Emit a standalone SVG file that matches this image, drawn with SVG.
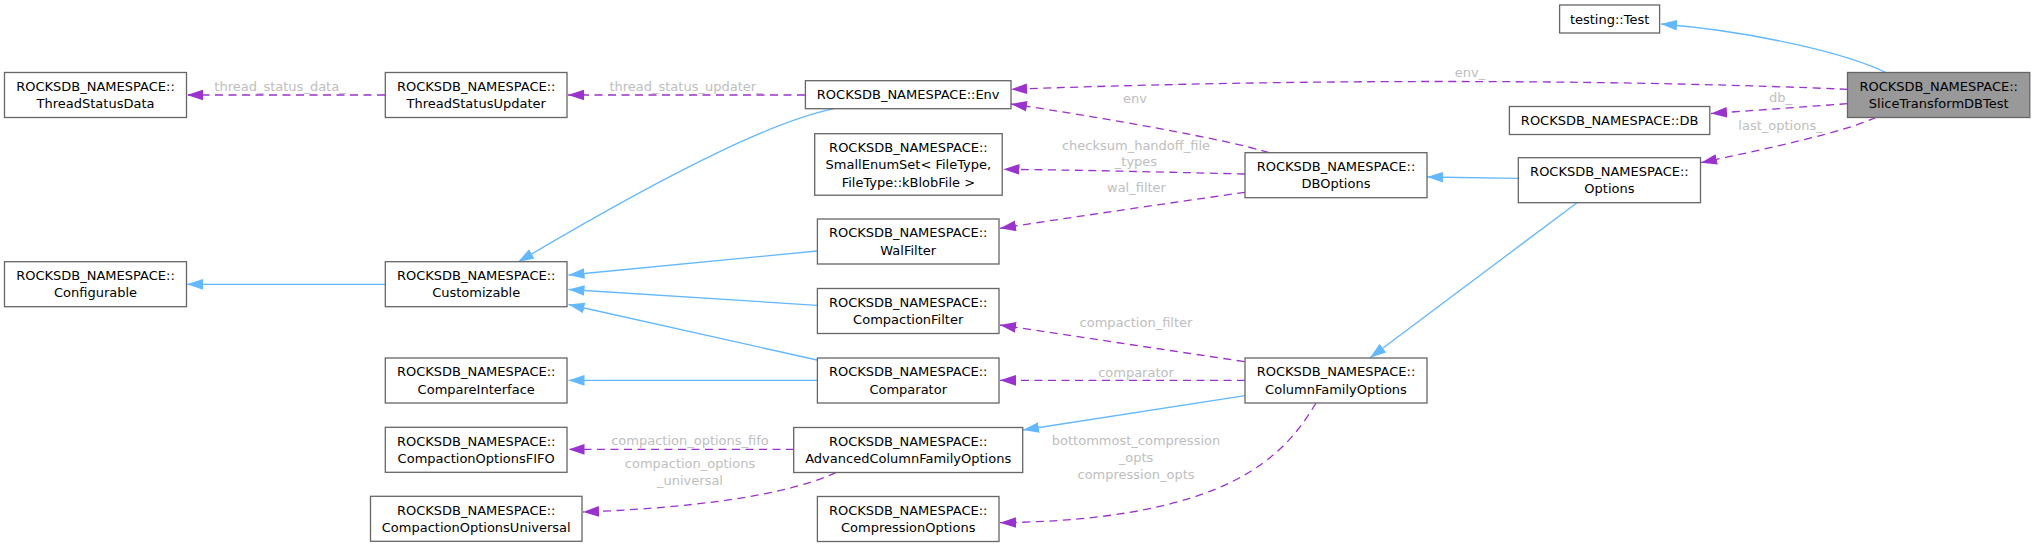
<svg xmlns="http://www.w3.org/2000/svg" width="2035" height="547" viewBox="0 0 2035 547">
<style>
.node rect{fill:#ffffff;stroke:#666666;stroke-width:1.3}
.node.hl rect{fill:#999999}
.node text{font-family:"DejaVu Sans",sans-serif;font-size:13px;fill:#000000;text-anchor:middle}
.e{fill:none;stroke-width:1.3}
.inh{stroke:#63b8ff;marker-end:url(#ab)}
.use{stroke:#9a32cd;stroke-dasharray:8,5.5;marker-end:url(#ap)}
.lbl{font-family:"DejaVu Sans",sans-serif;font-size:13px;fill:#bebebe;text-anchor:middle}
</style>
<defs>
<marker id="ab" markerUnits="userSpaceOnUse" markerWidth="16" markerHeight="11" viewBox="0 0 15 10" refX="15" refY="5" orient="auto"><polygon points="0,0 15,5 0,10" fill="#63b8ff"/></marker>
<marker id="ap" markerUnits="userSpaceOnUse" markerWidth="16" markerHeight="11" viewBox="0 0 15 10" refX="15" refY="5" orient="auto"><polygon points="0,0 15,5 0,10" fill="#9a32cd"/></marker>
</defs>
<rect width="2035" height="547" fill="#ffffff"/>
<g id="edges">
<path class="e inh" d="M1886,72.7 C1850,55 1760,32 1661,24"/>
<path class="e use" d="M1847.5,89.3 C1650,81 1350,77 1011,89.3"/>
<path class="e use" d="M1847.5,103.7 L1711,113.5"/>
<path class="e use" d="M1876,117.3 C1845,132 1770,148 1701,162.7"/>
<path class="e use" d="M805,95 L568,95"/>
<path class="e use" d="M385,95 L187,95"/>
<path class="e use" d="M1269,152.7 C1230,140 1100,117 1011,104"/>
<path class="e use" d="M1245,174 C1160,172 1080,170 1003.5,169.3"/>
<path class="e use" d="M1245,192.3 C1170,203 1080,216 1000,228.3"/>
<path class="e inh" d="M1518,178.3 L1427,177"/>
<path class="e inh" d="M1577,202.7 L1370,357.7"/>
<path class="e inh" d="M834,108.7 C780,120 690,160 518,262"/>
<path class="e inh" d="M817,251 L568.5,275"/>
<path class="e inh" d="M817,305.3 L568.5,289.5"/>
<path class="e inh" d="M817,360 L568.5,304.5"/>
<path class="e inh" d="M817,380.3 L568.5,380.3"/>
<path class="e inh" d="M385,284.3 L187,284.3"/>
<path class="e use" d="M1244.6,361.7 L1000,325"/>
<path class="e use" d="M1245,380.3 L1000,380.3"/>
<path class="e inh" d="M1245,395.7 L1023,430"/>
<path class="e use" d="M1316,403 C1285,455 1230,520 1000,522.7"/>
<path class="e use" d="M794,449.3 L568.5,449.3"/>
<path class="e use" d="M836,472.3 C800,490 720,507 583,512"/>
<text class="lbl" x="280" y="90.5">thread_status_data_</text>
<text class="lbl" x="686" y="90.5">thread_status_updater_</text>
<text class="lbl" x="1470" y="77">env_</text>
<text class="lbl" x="1780.5" y="101.5">db_</text>
<text class="lbl" x="1780.5" y="130">last_options_</text>
<text class="lbl" x="1135" y="103">env</text>
<text class="lbl" x="1136" y="149.5">checksum_handoff_file</text>
<text class="lbl" x="1136" y="166">_types</text>
<text class="lbl" x="1136.5" y="191.5">wal_filter</text>
<text class="lbl" x="1136" y="327">compaction_filter</text>
<text class="lbl" x="1136" y="376.5">comparator</text>
<text class="lbl" x="1136" y="445">bottommost_compression</text>
<text class="lbl" x="1136" y="462">_opts</text>
<text class="lbl" x="1136" y="479">compression_opts</text>
<text class="lbl" x="690" y="445">compaction_options_fifo</text>
<text class="lbl" x="690" y="467.5">compaction_options</text>
<text class="lbl" x="690" y="484.5">_universal</text>
</g>
<g id="n_slice" class="node hl"><rect x="1847.5" y="72.5" width="182.3" height="45"/><text x="1938.7" y="90.8">ROCKSDB_NAMESPACE::</text><text x="1938.7" y="108">SliceTransformDBTest</text></g>
<g id="n_test" class="node"><rect x="1559.6" y="5" width="100" height="28"/><text x="1609.6" y="23.6">testing::Test</text></g>
<g id="n_db" class="node"><rect x="1509.4" y="106.5" width="200.4" height="28"/><text x="1609.6" y="125.1">ROCKSDB_NAMESPACE::DB</text></g>
<g id="n_options" class="node"><rect x="1518.3" y="157.7" width="182.2" height="45"/><text x="1609.4" y="176">ROCKSDB_NAMESPACE::</text><text x="1609.4" y="193.3">Options</text></g>
<g id="n_dboptions" class="node"><rect x="1245" y="152.7" width="182" height="45"/><text x="1336" y="171">ROCKSDB_NAMESPACE::</text><text x="1336" y="188.3">DBOptions</text></g>
<g id="n_cfo" class="node"><rect x="1245" y="358" width="182" height="45"/><text x="1336" y="376.3">ROCKSDB_NAMESPACE::</text><text x="1336" y="393.6">ColumnFamilyOptions</text></g>
<g id="n_env" class="node"><rect x="805.4" y="80.7" width="205.6" height="28"/><text x="908.2" y="99.3">ROCKSDB_NAMESPACE::Env</text></g>
<g id="n_smallenum" class="node"><rect x="814.7" y="133.7" width="187.5" height="61.5"/><text x="908.4" y="151.7">ROCKSDB_NAMESPACE::</text><text x="908.4" y="169.2">SmallEnumSet&lt; FileType,</text><text x="908.4" y="186.5">FileType::kBlobFile &gt;</text></g>
<g id="n_walfilter" class="node"><rect x="817.4" y="219" width="181.6" height="45"/><text x="908.2" y="237.3">ROCKSDB_NAMESPACE::</text><text x="908.2" y="254.6">WalFilter</text></g>
<g id="n_compfilter" class="node"><rect x="817.4" y="288.5" width="181.6" height="45"/><text x="908.2" y="306.8">ROCKSDB_NAMESPACE::</text><text x="908.2" y="324.1">CompactionFilter</text></g>
<g id="n_comparator" class="node"><rect x="817.4" y="358" width="181.6" height="45"/><text x="908.2" y="376.3">ROCKSDB_NAMESPACE::</text><text x="908.2" y="393.6">Comparator</text></g>
<g id="n_advcfo" class="node"><rect x="793.7" y="427.5" width="229" height="45"/><text x="908.2" y="445.8">ROCKSDB_NAMESPACE::</text><text x="908.2" y="463.1">AdvancedColumnFamilyOptions</text></g>
<g id="n_compression" class="node"><rect x="817.4" y="496.5" width="181.6" height="45"/><text x="908.2" y="514.8">ROCKSDB_NAMESPACE::</text><text x="908.2" y="532.1">CompressionOptions</text></g>
<g id="n_tsupdater" class="node"><rect x="385.3" y="72.5" width="181.7" height="45"/><text x="476.2" y="90.8">ROCKSDB_NAMESPACE::</text><text x="476.2" y="108">ThreadStatusUpdater</text></g>
<g id="n_customizable" class="node"><rect x="385.3" y="261.7" width="181.7" height="45"/><text x="476.2" y="280">ROCKSDB_NAMESPACE::</text><text x="476.2" y="297.3">Customizable</text></g>
<g id="n_compareif" class="node"><rect x="385.3" y="358" width="181.7" height="45"/><text x="476.2" y="376.3">ROCKSDB_NAMESPACE::</text><text x="476.2" y="393.6">CompareInterface</text></g>
<g id="n_fifo" class="node"><rect x="385.3" y="427.3" width="181.7" height="45"/><text x="476.2" y="445.6">ROCKSDB_NAMESPACE::</text><text x="476.2" y="462.9">CompactionOptionsFIFO</text></g>
<g id="n_universal" class="node"><rect x="370.5" y="496.3" width="211.5" height="45"/><text x="476.2" y="514.6">ROCKSDB_NAMESPACE::</text><text x="476.2" y="531.9">CompactionOptionsUniversal</text></g>
<g id="n_tsdata" class="node"><rect x="4.5" y="72.5" width="182" height="45"/><text x="95.5" y="90.8">ROCKSDB_NAMESPACE::</text><text x="95.5" y="108">ThreadStatusData</text></g>
<g id="n_configurable" class="node"><rect x="4.5" y="261.7" width="182" height="45"/><text x="95.5" y="280">ROCKSDB_NAMESPACE::</text><text x="95.5" y="297.3">Configurable</text></g>
</svg>
